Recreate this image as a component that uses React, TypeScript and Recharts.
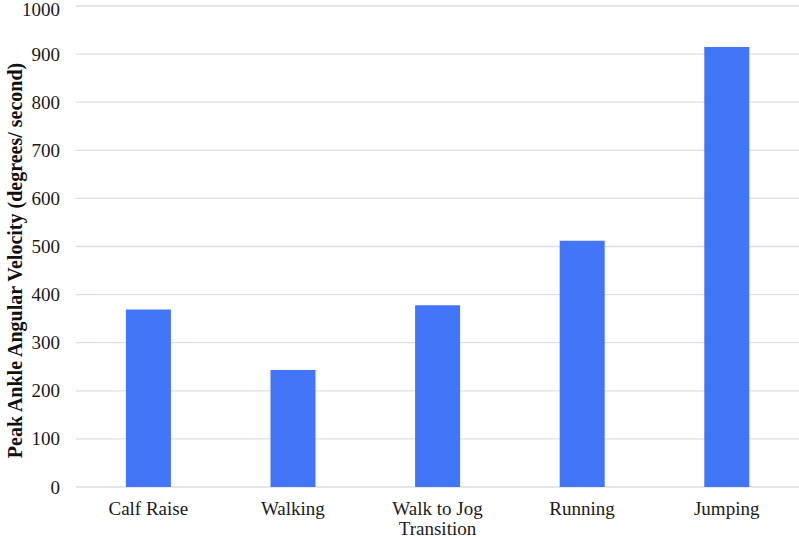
import React from 'react';
import { BarChart, Bar, XAxis, YAxis, CartesianGrid } from 'recharts';

const categories = ['Calf Raise', 'Walking', 'Walk to Jog\nTransition', 'Running', 'Jumping'];
const velocities = [369, 243, 378, 512, 915];
const yTicks = [0, 100, 200, 300, 400, 500, 600, 700, 800, 900, 1000];
const yTitle = 'Peak Ankle Angular Velocity (degrees/ second)';

const data = categories.map((c, i) => ({ name: c, value: velocities[i] }));

const FONT = "'Liberation Serif', 'Times New Roman', serif";

const XTick = (props: any) => {
  const { x, y, payload } = props;
  const lines = String(payload.value).split('\n');
  return (
    <text x={x} y={y} textAnchor="middle" style={{ fontFamily: FONT, fontSize: 19 }} fill="#1a1a1a">
      {lines.map((l: string, i: number) => (
        <tspan key={i} x={x} dy={i === 0 ? 20 : 20}>{l}</tspan>
      ))}
    </text>
  );
};

const YTick = (props: any) => {
  const { x, y, payload } = props;
  return (
    <text x={x} y={y} textAnchor="end" dominantBaseline="central" style={{ fontFamily: FONT, fontSize: 19 }} fill="#1a1a1a">
      {payload.value}
    </text>
  );
};

const YTitle = (props: any) => {
  const { viewBox } = props;
  const cy = viewBox.y + viewBox.height / 2 + 14;
  const cx = 15;
  return (
    <text x={cx} y={cy} transform={`rotate(-90, ${cx}, ${cy})`} textAnchor="middle" dominantBaseline="central"
      style={{ fontFamily: FONT, fontSize: 20, fontWeight: 'bold' }} fill="#111">
      {yTitle}
    </text>
  );
};

export default function App() {
  return (
    <div style={{ position: 'absolute', left: 0, top: 0, background: '#fff' }}>
      <BarChart width={799} height={537} data={data} margin={{ top: 6, right: 0, bottom: 0, left: 0 }} barCategoryGap="34.5%">
        <CartesianGrid vertical={false} stroke="#dcdfe3" strokeWidth={1.3} />
        <XAxis dataKey="name" axisLine={false} tickLine={false} height={50} tick={<XTick />} interval={0} />
        <YAxis
          domain={[0, 1000]}
          ticks={yTicks}
          width={76}
          axisLine={false}
          tickLine={false}
          tickSize={0}
          tickMargin={16}
          tick={<YTick />}
          label={<YTitle />}
        />
        <Bar dataKey="value" fill="#4275F7" isAnimationActive={false} />
      </BarChart>
    </div>
  );
}
